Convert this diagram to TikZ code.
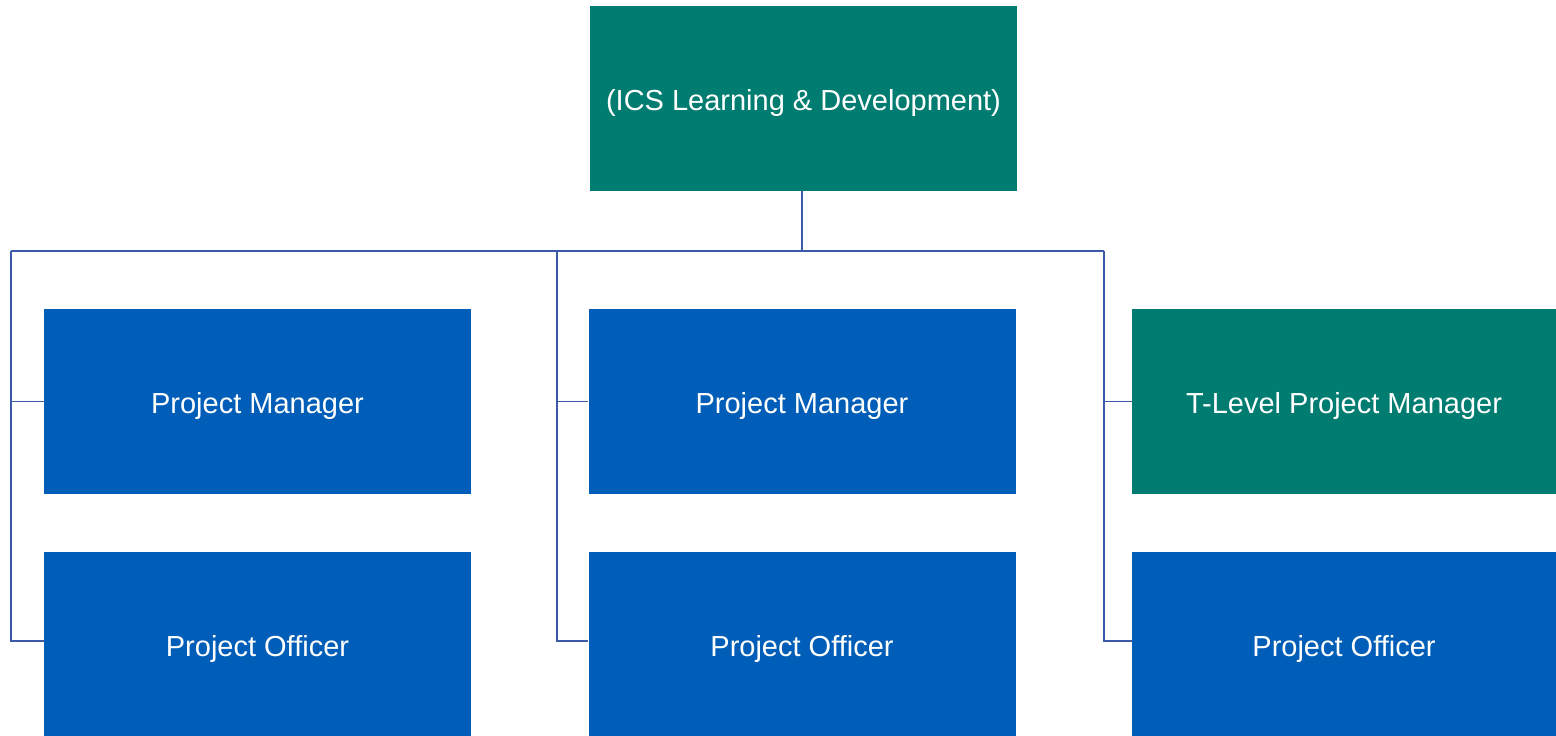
\documentclass[tikz,border=0pt]{standalone}
\usepackage{fontspec}
\setmainfont{Liberation Sans}
\definecolor{teal}{RGB}{0,124,112}
\definecolor{nhsblue}{RGB}{0,94,184}
\definecolor{linec}{RGB}{60,90,170}
\begin{document}
\begin{tikzpicture}[x=1pt,y=-1pt,
  box/.style={draw=none,minimum width=427pt,minimum height=185pt,inner sep=0pt,text=white,
    text height=24pt,text depth=0pt,font=\fontsize{29}{34}\selectfont},
  tealbox/.style={box,fill=teal},
  bluebox/.style={box,fill=nhsblue},
  conn/.style={draw=linec,line width=1.4pt}]
\useasboundingbox (0,0) rectangle (1556,736);
\begin{scope}
\clip (0,0) rectangle (1556,736);
\node[tealbox] (top) at (803.5,98.5) {(ICS Learning \& Development)};
\node[bluebox] (pm1) at (257.5,401.5) {Project Manager};
\node[bluebox] (po1) at (257.5,644.5) {Project Officer};
\node[bluebox] (pm2) at (802,401.5) {Project Manager};
\node[bluebox] (po2) at (802,644.5) {Project Officer};
\node[tealbox,minimum width=424pt] (pm3) at (1344,401.5) {T-Level Project Manager};
\node[bluebox,minimum width=424pt] (po3) at (1344,644.5) {Project Officer};
\end{scope}
\coordinate (busL) at (11,251);
\coordinate (busM) at (557,251);
\coordinate (busR) at (1104,251);
\coordinate (topc) at ([xshift=-1.5pt]top.south);
\draw[conn] (topc) -- (topc |- busL);
\draw[conn] (busL) -- (busR);
\draw[conn] (busL) |- ([yshift=3.5pt]po1.west);
\draw[conn] (busL |- pm1.west) -- (pm1.west);
\draw[conn] (busM) |- ([yshift=3.5pt]po2.west);
\draw[conn] (busM |- pm2.west) -- (pm2.west);
\draw[conn] (busR) |- ([yshift=3.5pt]po3.west);
\draw[conn] (busR |- pm3.west) -- (pm3.west);
\end{tikzpicture}
\end{document}
